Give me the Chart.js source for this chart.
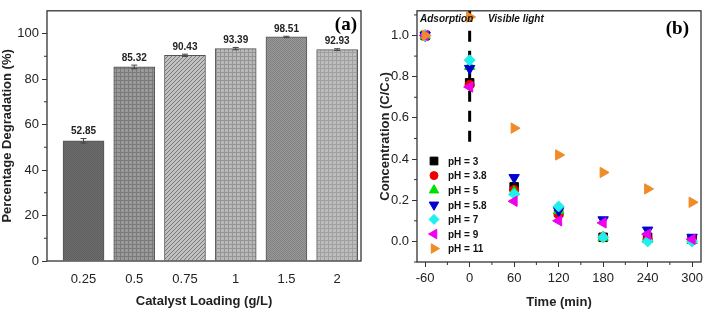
<!DOCTYPE html>
<html>
<head>
<meta charset="utf-8">
<script src="https://cdn.jsdelivr.net/npm/chart.js@4.4.1/dist/chart.umd.min.js"></script>
<style>
  html, body { margin: 0; padding: 0; background: #fff; }
  #wrap { position: relative; width: 708px; height: 311px; }
  #cA { position: absolute; left: 0; top: 0; }
  #cB { position: absolute; left: 362px; top: 0; }
</style>
</head>
<body>
<div id="wrap">
  <canvas id="cA" width="362" height="311"></canvas>
  <canvas id="cB" width="346" height="311"></canvas>
</div>
<script>
// panel (a) data
const loadings = ['0.25', '0.5', '0.75', '1', '1.5', '2'];
const degradation = [52.85, 85.32, 90.43, 93.39, 98.51, 92.93];
const degErr = [1.0, 0.8, 0.5, 0.5, 0.3, 0.4];
const yTicksA = [0, 20, 40, 60, 80, 100];

// panel (b) data
const times = [-60, 0, 60, 120, 180, 240, 300];
const ph3  = [1.0, 0.77, 0.265, 0.14, 0.02, 0.02, 0.01];
const ph38 = [1.0, 0.76, 0.25, 0.13, 0.02, 0.01, 0.005];
const ph5  = [1.0, 0.85, 0.24, 0.15, 0.02, 0.01, 0.005];
const ph58 = [1.0, 0.84, 0.31, 0.15, 0.105, 0.055, 0.02];
const ph7  = [1.0, 0.88, 0.23, 0.17, 0.02, 0.0, 0.0];
const ph9  = [1.0, 0.75, 0.195, 0.10, 0.09, 0.035, 0.01];
const ph11 = [1.0, 1.09, 0.55, 0.42, 0.335, 0.255, 0.19];
const phLabels = ['pH = 3', 'pH = 3.8', 'pH = 5', 'pH = 5.8', 'pH = 7', 'pH = 9', 'pH = 11'];
const xTicksB = [-60, 0, 60, 120, 180, 240, 300];
const yTicksB = [0, 0.2, 0.4, 0.6, 0.8, 1.0];

Chart.defaults.font.family = '"Liberation Sans", Arial, sans-serif';
Chart.defaults.color = '#222';

// grey hatch fills for the bars
function makePattern(kind, bg, fg) {
  const t = document.createElement('canvas');
  t.width = 4; t.height = 4;
  const c = t.getContext('2d');
  c.fillStyle = bg;
  c.fillRect(0, 0, 4, 4);
  c.fillStyle = fg;
  if (kind === 'checker') {
    c.fillRect(0, 0, 1, 1); c.fillRect(2, 0, 1, 1);
    c.fillRect(1, 1, 1, 1); c.fillRect(3, 1, 1, 1);
    c.fillRect(0, 2, 1, 1); c.fillRect(2, 2, 1, 1);
    c.fillRect(1, 3, 1, 1); c.fillRect(3, 3, 1, 1);
  } else if (kind === 'grid') {
    c.fillRect(0, 0, 4, 1);
    c.fillRect(0, 0, 1, 4);
  } else if (kind === 'diag') {
    for (let i = 0; i < 4; i++) c.fillRect(3 - i, i, 1, 1);
  }
  return c.createPattern(t, 'repeat');
}
const ctxA = document.getElementById('cA').getContext('2d');
const barFills = [
  makePattern('checker', '#6e6e6e', '#5e5e5e'),
  makePattern('grid', '#9a9a9a', '#7a7a7a'),
  makePattern('diag', '#c0c0c0', '#7c7c7c'),
  makePattern('grid', '#b8b8b8', '#959595'),
  makePattern('checker', '#9a9a9a', '#808080'),
  makePattern('grid', '#bdbdbd', '#a0a0a0')
];

const framePlugin = {
  id: 'frame',
  afterDraw(chart) {
    const { ctx, chartArea: a } = chart;
    ctx.save();
    ctx.strokeStyle = '#333';
    ctx.lineWidth = 1.3;
    ctx.strokeRect(a.left, a.top, a.right - a.left, a.bottom - a.top);
    ctx.restore();
  }
};

function minorTickPlugin(xMinor, yMinor) {
  return {
    id: 'minorTicks',
    afterDraw(chart) {
      const { ctx, chartArea: a, scales } = chart;
      ctx.save();
      ctx.strokeStyle = '#333';
      ctx.lineWidth = 1;
      ctx.beginPath();
      xMinor.forEach(v => {
        const px = scales.x.getPixelForValue(v);
        ctx.moveTo(px, a.bottom); ctx.lineTo(px, a.bottom + 3);
      });
      yMinor.forEach(v => {
        const py = scales.y.getPixelForValue(v);
        ctx.moveTo(a.left, py); ctx.lineTo(a.left - 3, py);
      });
      ctx.stroke();
      ctx.restore();
    }
  };
}

const barLabelPlugin = {
  id: 'barLabels',
  afterDatasetsDraw(chart) {
    const { ctx, scales } = chart;
    const meta = chart.getDatasetMeta(0);
    ctx.save();
    meta.data.forEach((bar, i) => {
      const top = scales.y.getPixelForValue(degradation[i] + degErr[i]);
      const bot = scales.y.getPixelForValue(degradation[i] - degErr[i]);
      ctx.strokeStyle = '#444';
      ctx.lineWidth = 1;
      ctx.beginPath();
      ctx.moveTo(bar.x, top); ctx.lineTo(bar.x, bot);
      ctx.moveTo(bar.x - 3, top); ctx.lineTo(bar.x + 3, top);
      ctx.moveTo(bar.x - 3, bot); ctx.lineTo(bar.x + 3, bot);
      ctx.stroke();
      ctx.fillStyle = '#222';
      ctx.font = 'bold 10px "Liberation Sans", Arial, sans-serif';
      ctx.textAlign = 'center';
      ctx.textBaseline = 'bottom';
      ctx.fillText(degradation[i].toFixed(2), bar.x, top - 2);
    });
    ctx.fillStyle = '#000';
    ctx.font = 'bold 19px "Liberation Serif", "Times New Roman", serif';
    ctx.textAlign = 'right';
    ctx.textBaseline = 'middle';
    ctx.fillText('(a)', chart.chartArea.right - 4, chart.chartArea.top + 14);
    ctx.restore();
  }
};

new Chart(ctxA, {
  type: 'bar',
  data: {
    datasets: [{
      data: degradation.map((v, i) => ({ x: i + 1, y: v })),
      backgroundColor: barFills,
      borderColor: '#555',
      borderWidth: 1,
      barThickness: 41
    }]
  },
  options: {
    responsive: false,
    animation: false,
    layout: { padding: { top: 5, right: 1, left: 0, bottom: 0 } },
    plugins: { legend: { display: false }, tooltip: { enabled: false } },
    scales: {
      x: {
        type: 'linear', min: 0.28, max: 6.47, offset: false,
        afterBuildTicks: s => { s.ticks = loadings.map((c, i) => ({ value: i + 1 })); },
        ticks: { callback: v => loadings[Math.round(v) - 1], padding: 3, font: { size: 13 }, maxRotation: 0, autoSkip: false },
        grid: { display: false },
        border: { display: false },
        title: { display: true, text: 'Catalyst Loading (g/L)', font: { size: 13, weight: 'bold' }, padding: { top: 0, bottom: 2 } },
        afterFit: s => { s.height = 50; }
      },
      y: {
        min: 0, max: 110,
        afterBuildTicks: s => { s.ticks = yTicksA.map(v => ({ value: v })); },
        ticks: { font: { size: 13 }, padding: 3 },
        grid: { drawOnChartArea: false, tickLength: 5, color: '#333' },
        border: { display: false },
        title: { display: true, text: 'Percentage Degradation (%)', font: { size: 13, weight: 'bold' }, padding: { top: 0, bottom: 0 } },
        afterFit: s => { s.width = 47; }
      }
    }
  },
  plugins: [framePlugin, minorTickPlugin([], [10, 30, 50, 70, 90]), barLabelPlugin]
});

// panel (b)
const seriesB = [ph3, ph38, ph5, ph58, ph7, ph9, ph11];
const styleB = [
  { color: '#000000', shape: 'rect', rot: 0, r: 6 },
  { color: '#ee0000', shape: 'circle', rot: 0, r: 4.5 },
  { color: '#00e000', shape: 'triangle', rot: 0, r: 6 },
  { color: '#0000d0', shape: 'triangle', rot: 180, r: 6 },
  { color: '#22eeee', shape: 'rectRot', rot: 0, r: 5.5 },
  { color: '#ee00ee', shape: 'triangle', rot: -90, r: 6 },
  { color: '#f08c28', shape: 'triangle', rot: 90, r: 6 }
];

const datasetsB = seriesB.map((vals, i) => ({
  label: phLabels[i],
  data: vals.map((v, j) => ({ x: times[j], y: v })),
  backgroundColor: styleB[i].color,
  borderColor: styleB[i].color,
  borderWidth: 1,
  pointStyle: styleB[i].shape,
  rotation: styleB[i].rot,
  pointRadius: styleB[i].r,
  order: 6 - i
}));
datasetsB.push({
  label: 'divider',
  data: [{ x: 0, y: 1.12 }, { x: 0, y: 0.47 }],
  showLine: true,
  borderColor: '#000',
  borderWidth: 3,
  borderDash: [11, 9],
  pointRadius: 0,
  order: 20
});

const legendB = {
  id: 'legendB',
  afterDraw(chart) {
    const { ctx, chartArea: a } = chart;
    ctx.save();
    ctx.font = 'bold 10px "Liberation Sans", Arial, sans-serif';
    ctx.textAlign = 'left';
    ctx.textBaseline = 'middle';
    phLabels.forEach((lab, i) => {
      const y = 161 + i * 14.6;
      const st = styleB[i];
      ctx.fillStyle = st.color;
      ctx.strokeStyle = st.color;
      ctx.lineWidth = 1;
      Chart.helpers.drawPoint(ctx, { pointStyle: st.shape, rotation: st.rot, radius: st.r - 0.5, borderWidth: 1 }, a.left + 17, y);
      ctx.fillStyle = '#111';
      ctx.fillText(lab, a.left + 31, y + 1);
    });
    ctx.font = 'bold italic 10px "Liberation Sans", Arial, sans-serif';
    ctx.fillText('Adsorption', a.left + 3, a.top + 8);
    ctx.fillText('Visible light', a.left + 71, a.top + 8);
    ctx.fillStyle = '#000';
    ctx.font = 'bold 19px "Liberation Serif", "Times New Roman", serif';
    ctx.textAlign = 'right';
    ctx.fillText('(b)', a.right - 12, a.top + 18);
    ctx.restore();
  }
};

new Chart(document.getElementById('cB'), {
  type: 'scatter',
  data: { datasets: datasetsB },
  options: {
    responsive: false,
    animation: false,
    layout: { padding: { top: 2, right: 2, left: 0, bottom: 0 } },
    plugins: { legend: { display: false }, tooltip: { enabled: false } },
    scales: {
      x: {
        type: 'linear', min: -71, max: 312,
        afterBuildTicks: s => { s.ticks = xTicksB.map(v => ({ value: v })); },
        ticks: { font: { size: 13 }, padding: 4, maxRotation: 0 },
        grid: { drawOnChartArea: false, tickLength: 5, color: '#333' },
        border: { display: false },
        title: { display: true, text: 'Time (min)', font: { size: 13, weight: 'bold' }, padding: { top: 0, bottom: 1 } },
        afterFit: s => { s.height = 49; }
      },
      y: {
        min: -0.1, max: 1.12,
        afterBuildTicks: s => { s.ticks = yTicksB.map(v => ({ value: v })); },
        ticks: { font: { size: 13 }, padding: 3, callback: v => v.toFixed(1) },
        grid: { drawOnChartArea: false, tickLength: 5, color: '#333' },
        border: { display: false },
        title: { display: true, text: 'Concentration (C/C\u2080)', font: { size: 13, weight: 'bold' }, padding: { top: 16, bottom: 0 } },
        afterFit: s => { s.width = 55; }
      }
    }
  },
  plugins: [framePlugin, minorTickPlugin([-30, 30, 90, 150, 210, 270], [-0.1, 0.1, 0.3, 0.5, 0.7, 0.9, 1.1]), legendB]
});
</script>
</body>
</html>
